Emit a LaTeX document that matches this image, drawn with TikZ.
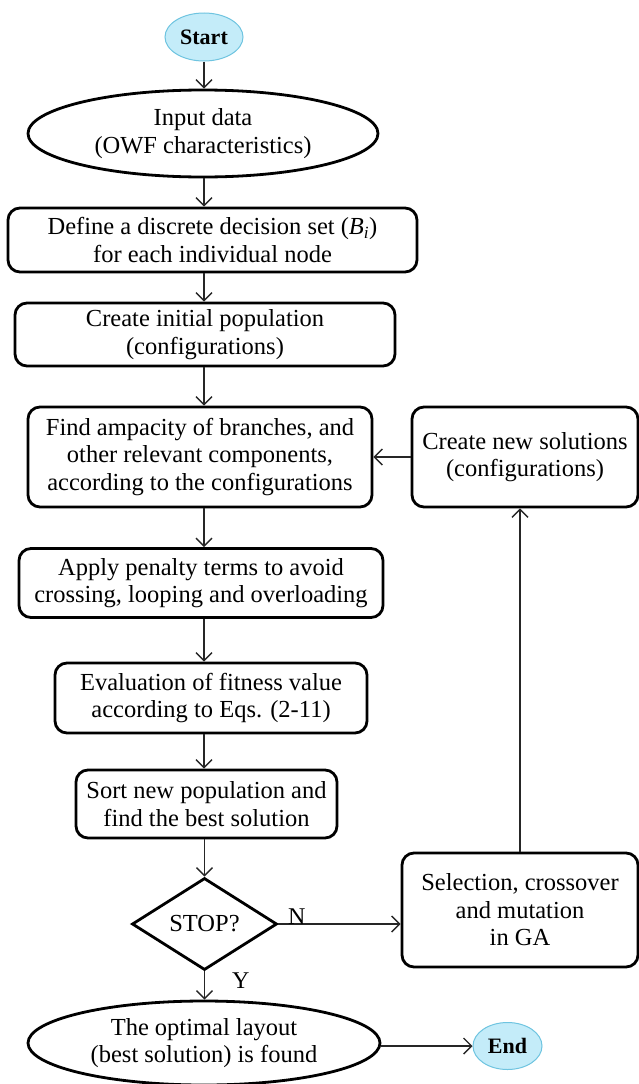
\documentclass[tikz,border=0pt]{standalone}
\usepackage{fontspec}
\setmainfont{Liberation Serif}
\usetikzlibrary{shapes.geometric,arrows.meta}
\definecolor{termfill}{RGB}{196,236,249}
\definecolor{termdraw}{RGB}{110,196,224}
\begin{document}
\begin{tikzpicture}[x=1pt,y=-1pt,
  txt/.style={font=\fontsize{24.5}{27.5}\selectfont, align=center, inner sep=0pt},
  procbox/.style={txt, draw, line width=2.8pt, rounded corners=12pt},
  oval/.style={txt, ellipse, draw, line width=2.8pt},
  term/.style={txt, ellipse, draw=termdraw, fill=termfill, line width=1pt, font=\fontsize{22}{26}\selectfont\bfseries},
  decide/.style={txt, diamond, draw, line width=2.8pt, aspect=1.5},
  arr/.style={-{Straight Barb[length=8pt,width=16pt]}, line width=1.4pt, draw=black!85},
  lbl/.style={font=\fontsize{24}{27}\selectfont, inner sep=0pt}]
\useasboundingbox (0,0) rectangle (639,1084);
\fill[white] (0,0) rectangle (639,1084);
\coordinate (col) at (204,0);
\node[term, minimum width=78pt, minimum height=48pt] (start) at (204,37) {Start};
\node[oval, minimum width=350pt, minimum height=87pt] (input) at (203,133.5) {Input data\\(OWF characteristics)};
\node[procbox, minimum width=409pt, minimum height=64pt] (define) at (212.5,240) {Define a discrete decision set (\textit{B}\textsubscript{\textit{i}})\\for each individual node};
\node[procbox, minimum width=380pt, minimum height=63pt] (init) at (205,334.5) {Create initial population\\(configurations)};
\node[procbox, minimum width=344pt, minimum height=100pt] (find) at (200,457) {Find ampacity of branches, and\\other relevant components,\\according to the configurations};
\node[procbox, minimum width=226pt, minimum height=100pt] (newsol) at (525,457) {Create new solutions\\(configurations)};
\node[procbox, minimum width=364pt, minimum height=69pt] (apply) at (201,583) {Apply penalty terms to avoid\\crossing, looping and overloading};
\node[procbox, minimum width=312pt, minimum height=70pt] (eval) at (211,698) {Evaluation of fitness value\\according to Eqs. (2-11)};
\node[procbox, minimum width=261pt, minimum height=68pt] (sort) at (206.5,804) {Sort new population and\\find the best solution};
\node[decide, minimum width=145pt, minimum height=92pt] (stop) at (204.5,924) {STOP?};
\node[procbox, minimum width=236pt, minimum height=114pt] (sel) at (520,910) {Selection, crossover\\and mutation\\in GA};
\node[oval, minimum width=352pt, minimum height=84pt] (opt) at (204,1043) {The optimal layout\\(best solution) is found};
\node[term, minimum width=69pt, minimum height=47pt] (end) at (507.5,1046) {End};
\draw[arr] (start.south -| col) -- (input.north -| col);
\draw[arr] (input.south -| col) -- (define.north -| col);
\draw[arr] (define.south -| col) -- (init.north -| col);
\draw[arr] (init.south -| col) -- (find.north -| col);
\draw[arr] (find.south -| col) -- (apply.north -| col);
\draw[arr] (apply.south -| col) -- (eval.north -| col);
\draw[arr] (eval.south -| col) -- (sort.north -| col);
\draw[arr] (sort.south -| stop.north) -- (stop.north);
\draw[arr] (stop.south) -- (opt.north -| stop.south)
  node[lbl, pos=0, anchor=base west, xshift=27pt, yshift=-17pt] (ylbl) {Y};
\draw[arr] (stop.east) -- (stop.east -| sel.west)
  node[lbl, pos=0, anchor=base west, xshift=9pt, yshift=0pt] (nlbl) {N};
\draw[arr] (sel.north) -- (sel.north |- newsol.south);
\draw[arr] (newsol.west) -- (newsol.west -| find.east);
\draw[arr] (opt.east |- end.west) -- (end.west);
\end{tikzpicture}
\end{document}
